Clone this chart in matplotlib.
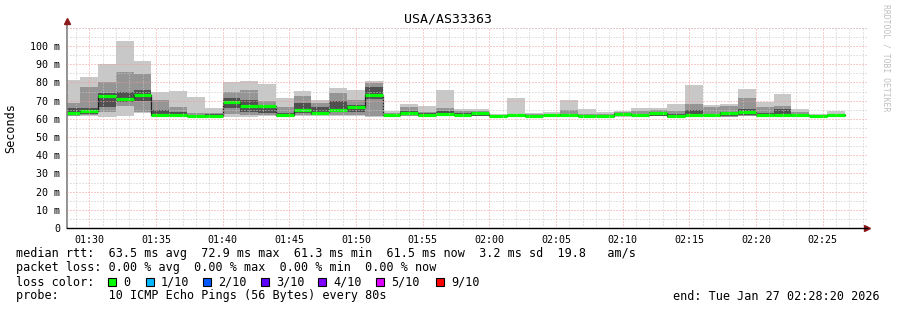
import numpy as np
import matplotlib.pyplot as plt
from matplotlib.ticker import MultipleLocator, FuncFormatter

# smokeping samples, one per 80 s step, values in ms
# first step starts 01:28:00 (clipped at 01:28:20)
ping_max = [81.3, 82.8, 90.0, 102.7, 91.8, 74.9, 75.5, 71.8, 65.8, 80.4, 80.8, 79.3,
            71.4, 75.3, 70.2, 76.9, 75.8, 80.8, 64.5, 68.1, 67.0, 75.8, 65.4, 65.4,
            62.6, 71.4, 63.0, 63.7, 70.3, 65.4, 63.7, 64.5, 65.9, 65.9, 68.1, 78.8,
            67.4, 68.1, 76.4, 69.4, 73.6, 65.4, 62.6, 64.5]
ping_q3 = [68.8, 77.6, 80.0, 85.9, 84.6, 70.3, 66.3, 63.0, 63.3, 74.9, 75.8, 69.8,
           66.7, 72.5, 68.5, 74.4, 70.3, 79.5, 63.2, 66.7, 64.0, 65.8, 64.5, 64.5,
           62.0, 62.8, 62.4, 62.6, 64.8, 62.8, 62.4, 63.5, 64.5, 64.8, 64.5, 68.1,
           66.7, 67.0, 71.2, 66.7, 67.0, 63.5, 62.2, 62.5]
inner_hi = [66.0, 66.0, 74.0, 74.5, 76.0, 64.8, 63.7, 62.3, 62.5, 71.2, 70.3, 67.5,
            63.0, 68.5, 66.3, 69.8, 67.5, 77.6, 62.6, 64.5, 63.0, 64.5, 63.0, 63.8,
            61.7, 62.2, 62.0, 62.2, 62.5, 62.2, 62.0, 63.0, 62.5, 63.8, 62.8, 65.0,
            62.5, 63.8, 65.5, 63.0, 65.4, 62.4, 62.0, 62.2]
median = [63.3, 64.5, 72.3, 71.0, 73.3, 62.1, 62.1, 61.7, 61.7, 69.0, 66.8, 66.8,
          61.9, 64.7, 63.2, 64.7, 66.7, 73.1, 62.3, 63.4, 62.3, 62.6, 62.3, 63.0,
          61.4, 61.9, 61.6, 61.9, 61.9, 61.8, 61.6, 62.6, 61.9, 63.0, 61.6, 61.9,
          61.9, 63.4, 63.9, 62.3, 62.1, 61.9, 61.8, 61.9]
inner_lo = [62.0, 62.5, 66.5, 69.5, 70.0, 61.8, 61.8, 61.3, 61.3, 66.0, 64.0, 63.0,
            61.5, 63.0, 62.3, 63.5, 63.5, 71.0, 61.8, 62.0, 61.8, 62.0, 61.8, 61.8,
            61.0, 61.6, 61.4, 61.6, 61.6, 61.5, 61.4, 61.6, 61.6, 61.7, 61.0, 61.6,
            61.6, 61.5, 62.0, 61.8, 61.8, 61.6, 61.6, 61.6]
ping_q1 = [61.8, 62.0, 63.5, 67.0, 64.0, 61.6, 61.6, 61.2, 61.2, 62.5, 62.0, 62.0,
           61.3, 62.0, 62.0, 62.0, 62.3, 61.5, 61.6, 61.7, 61.6, 61.8, 61.6, 61.6,
           60.8, 61.5, 61.3, 61.5, 61.5, 61.4, 61.3, 61.4, 61.5, 61.5, 60.8, 61.5,
           61.5, 61.2, 61.6, 61.6, 61.6, 61.5, 61.5, 61.5]
ping_min = [61.5, 61.5, 61.0, 61.5, 63.0, 61.5, 61.5, 61.0, 61.0, 61.2, 61.0, 61.5,
            61.0, 61.5, 61.5, 61.5, 61.8, 61.0, 61.5, 61.5, 61.5, 61.5, 61.5, 61.5,
            60.5, 61.3, 61.2, 61.3, 61.3, 61.2, 61.2, 61.2, 61.3, 61.3, 60.6, 61.3,
            61.3, 61.0, 61.3, 61.4, 61.4, 61.3, 61.3, 61.3]

loss_labels = ["0", "1/10", "2/10", "3/10", "4/10", "5/10", "9/10"]
loss_colors = ["#00ff00", "#00b8ff", "#0059ff", "#5e00ff", "#7e00ff", "#dd00ff", "#ff0000"]

W, H = 897, 310
mono = "DejaVu Sans Mono"

step = 80 / 60  # minutes
t_start = 88.0 + np.arange(len(median)) * step  # minutes after midnight

fig = plt.figure(figsize=(W / 100, H / 100), dpi=100)
fig.patch.set_facecolor("white")
ax = fig.add_axes([67 / W, 82 / H, 800 / W, 200.2 / H])

pmax = np.array(ping_max)
pmin = np.array(ping_min)
ax.bar(t_start, pmax - pmin, bottom=pmin, width=step, align="edge",
       color="#c8c8c8", linewidth=0)
ax.bar(t_start, np.array(ping_q3) - np.array(ping_q1), bottom=ping_q1, width=step,
       align="edge", color="#959595", linewidth=0)
ax.bar(t_start, np.array(inner_hi) - np.array(inner_lo), bottom=inner_lo, width=step,
       align="edge", color="#505050", linewidth=0)

edges = np.append(t_start, t_start[-1] + step)
ax.step(edges, np.append(median, median[-1]), where="post", color="#202020", lw=0.9)
ax.hlines(median, t_start, t_start + step, color="#00ff00", lw=2.3)

ax.set_xlim(88 + 20 / 60, 148 + 20 / 60)
ax.set_ylim(0, 110)

ax.xaxis.set_major_locator(MultipleLocator(5))
ax.xaxis.set_minor_locator(MultipleLocator(1))
ax.set_yticks(np.arange(0, 101, 10))
ax.yaxis.set_minor_locator(MultipleLocator(5))
ax.xaxis.set_major_formatter(FuncFormatter(lambda m, p: "%02d:%02d" % (int(m // 60), int(round(m % 60)))))
ax.yaxis.set_major_formatter(FuncFormatter(lambda v, p: "0" if v == 0 else "%d m" % round(v)))

ax.grid(which="minor", color="#c8c8c8", linestyle=(0, (1, 2)), lw=0.72)
ax.grid(which="major", color="#f29a9a", linestyle=(0, (1, 2)), lw=0.72)
ax.axhline(110, color="#f29a9a", linestyle=(0, (1, 2)), lw=0.72)
ax.set_axisbelow(False)

ax.tick_params(which="both", length=0)
ax.tick_params(axis="x", pad=5)
ax.tick_params(axis="y", pad=5)
for lab in ax.get_xticklabels() + ax.get_yticklabels():
    lab.set_fontfamily(mono)
    lab.set_fontsize(7.2)

for s in ["top", "right"]:
    ax.spines[s].set_visible(False)
ax.spines["left"].set_color("#808080")
ax.spines["left"].set_linewidth(1.2)
ax.spines["bottom"].set_color("#000000")
ax.spines["bottom"].set_linewidth(1.0)

# axis arrows
ax.plot([0, 0], [1, 1.035], transform=ax.transAxes, color="#808080", lw=1.2, clip_on=False)
ax.plot([0], [1.035], marker="^", markersize=5, color="#8b1a1a", transform=ax.transAxes, clip_on=False)
ax.plot([1], [0], marker=">", markersize=5, color="#8b1a1a", transform=ax.transAxes, clip_on=False)

ax.set_ylabel("Seconds", fontfamily=mono, fontsize=8.5)
ax.yaxis.label.set_verticalalignment("center")
ax.yaxis.set_label_coords(-56 / 800, 0.5)

def px(x, y):
    return x / W, 1 - y / H

fig.text(*px(448, 19), "USA/AS33363", ha="center", va="center", fontfamily=mono, fontsize=9.5)
fig.text(*px(886, 58), "RRDTOOL / TOBI OETIKER", ha="center", va="center", rotation=-90,
         fontfamily=mono, fontsize=5.9, color="#c0c0c0")

fs = 8.5
fig.text(*px(16, 254), "median rtt:  63.5 ms avg  72.9 ms max  61.3 ms min  61.5 ms now  3.2 ms sd  19.8   am/s",
         va="center", fontfamily=mono, fontsize=fs)
fig.text(*px(16, 268), "packet loss: 0.00 % avg  0.00 % max  0.00 % min  0.00 % now",
         va="center", fontfamily=mono, fontsize=fs)
fig.text(*px(16, 282), "loss color:", va="center", fontfamily=mono, fontsize=fs)
box_x = [108, 146, 203, 261, 318, 376, 436]
for bx, lab, col in zip(box_x, loss_labels, loss_colors):
    fig.patches.append(plt.Rectangle(px(bx, 286), 8 / W, 8 / H, transform=fig.transFigure,
                                     facecolor=col, edgecolor="black", lw=0.8))
    fig.text(*px(bx + 15, 282), lab, va="center", fontfamily=mono, fontsize=fs)
fig.text(*px(16, 296), "probe:       10 ICMP Echo Pings (56 Bytes) every 80s",
         va="center", fontfamily=mono, fontsize=fs)
fig.text(*px(880, 296), "end: Tue Jan 27 02:28:20 2026", ha="right", va="center",
         fontfamily=mono, fontsize=fs)

fig.savefig("out.png", dpi=100)
